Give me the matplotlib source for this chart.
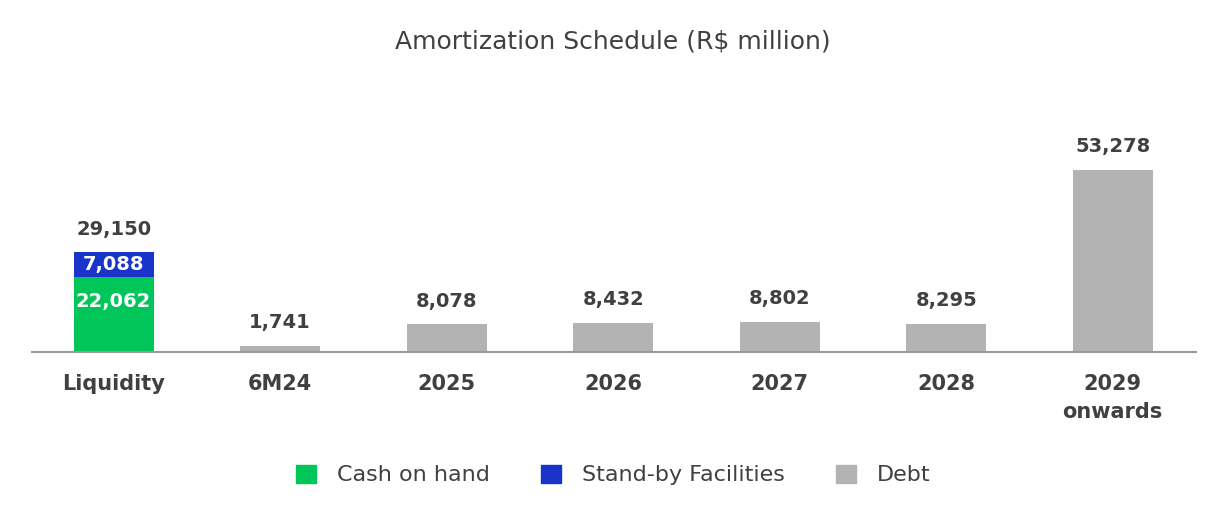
import matplotlib.pyplot as plt
from matplotlib.patches import Patch

categories = ["Liquidity", "6M24", "2025", "2026", "2027", "2028", "2029\nonwards"]
cash_on_hand = [22062, 0, 0, 0, 0, 0, 0]
standby = [7088, 0, 0, 0, 0, 0, 0]
debt = [0, 1741, 8078, 8432, 8802, 8295, 53278]

GREEN = "#00C65A"
BLUE = "#1A33C8"
GRAY = "#B3B3B3"
TEXT = "#404040"

plt.rcParams["font.family"] = ["DejaVu Sans"]

fig = plt.figure(figsize=(12.26, 5.28), dpi=100)
ax = fig.add_axes([0.0261, 0.3333, 0.9494, 0.4205])

x = list(range(len(categories)))
w = 0.48

ax.bar(x[0], cash_on_hand[0], width=w, color=GREEN)
ax.bar(x[0], standby[0], width=w, bottom=cash_on_hand[0], color=BLUE)
ax.bar(x[1:], debt[1:], width=w, color=GRAY)

# totals above bars
totals = [c + s + d for c, s, d in zip(cash_on_hand, standby, debt)]
for xi, t in zip(x, totals):
    ax.annotate(f"{t:,}", (xi, t), xytext=(0, 10), textcoords="offset points",
                ha="center", va="bottom", fontsize=14, fontweight="bold", color=TEXT)

# segment labels inside liquidity bar
ax.annotate(f"{standby[0]:,}", (x[0], cash_on_hand[0] + standby[0] / 2),
            ha="center", va="center", fontsize=14, fontweight="bold", color="white")
ax.annotate(f"{cash_on_hand[0]:,}", (x[0], cash_on_hand[0]), xytext=(0, -18),
            textcoords="offset points", ha="center", va="center",
            fontsize=14, fontweight="bold", color="white")

ax.set_xlim(-0.49, 6.5)
ax.set_ylim(0, 65000)
for side in ["top", "right", "left"]:
    ax.spines[side].set_visible(False)
ax.spines["bottom"].set_color("#999999")
ax.spines["bottom"].set_linewidth(1.5)
ax.set_yticks([])
ax.set_xticks(x)
ax.set_xticklabels(categories, fontsize=15, fontweight="bold", color=TEXT,
                   linespacing=1.5)
ax.tick_params(axis="x", length=0, pad=16)

fig.text(0.5, 1 - 42 / 528, "Amortization Schedule (R$ million)", ha="center",
         va="center", fontsize=18, color=TEXT)

handles = [Patch(color=GREEN, label="Cash on hand"),
           Patch(color=BLUE, label="Stand-by Facilities"),
           Patch(color=GRAY, label="Debt")]
leg = fig.legend(handles=handles, loc="center", bbox_to_anchor=(0.5, 1 - 475 / 528),
                 ncol=3, frameon=False, fontsize=16, handlelength=0.9,
                 handleheight=0.9, handletextpad=0.95, columnspacing=2.3)
for t in leg.get_texts():
    t.set_color(TEXT)

fig.savefig("out.png", dpi=100)
